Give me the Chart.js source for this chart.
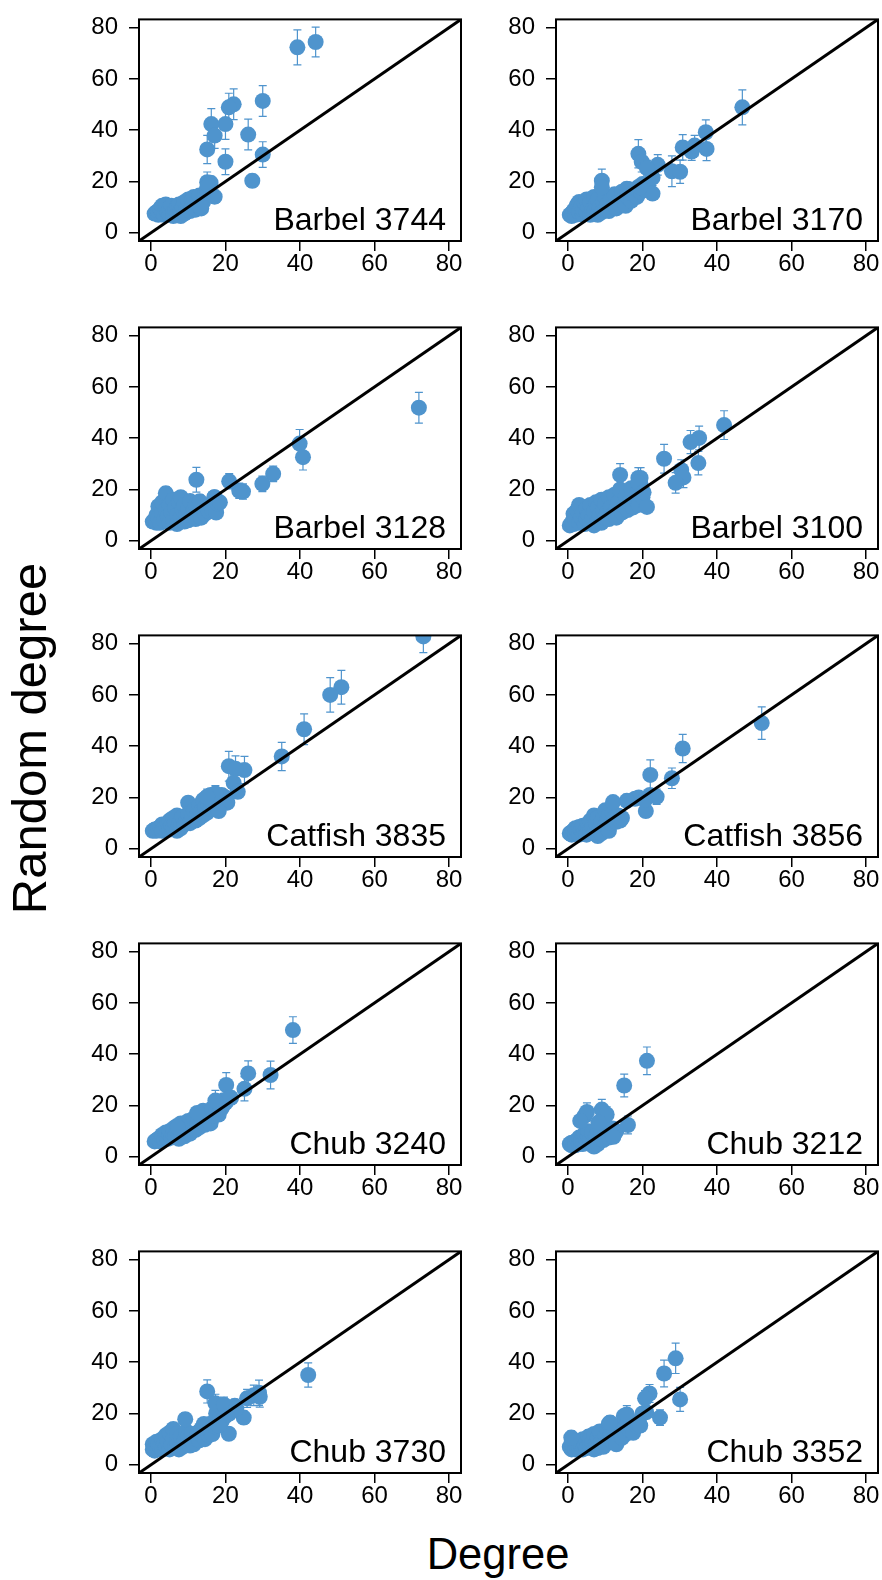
<!DOCTYPE html>
<html>
<head>
<meta charset="utf-8">
<script src="https://cdn.jsdelivr.net/npm/chart.js@4.4.1/dist/chart.umd.min.js"></script>
<style>
  html, body { margin: 0; padding: 0; background: #fff; overflow: hidden; }
  #page { position: relative; width: 882px; height: 1580px; font-family: 'Liberation Sans', Arial, sans-serif; }
  #page canvas { position: absolute; }
  .axis-title { position: absolute; width: 400px; text-align: center; white-space: nowrap; color: #000; }
  #ytitle { left: -171px; top: 714px; font-size: 49px; line-height: 49px; transform: rotate(-90deg); }
  #xtitle { left: 298px; top: 1533px; font-size: 43.5px; line-height: 43.5px; }
</style>
</head>
<body>
<div id="page">
  <div class="axis-title" id="ytitle">Random degree</div>
  <div class="axis-title" id="xtitle">Degree</div>
</div>
<script>
// [degree, random degree, error half-width]
const barbel3744 = [
  [1,7.5,1],[1.5,8,1],[2,7,1],[2,8.5,1],[2.5,9.5,1],[3,8,1],[3,10.5,1],[3.5,7,1],[4,9,1],[4,11,1],
  [4.5,8,1],[5,7,1],[5,9.5,1],[5.5,10.5,1],[6,8,1],[6,6.5,1],[6.5,9,1],[7,10,1],[7,7,1],[7.5,11,1],
  [8,8.5,1],[8,6.5,1],[8.5,10,1],[9,12,1.5],[9,7.5,1],[9.5,9.5,1],[10,11,1],[10,13,1.5],[10.5,8.5,1],[11,12.5,1.5],
  [11,10,1],[11.5,14,1.5],[12,11.5,1.5],[12,9,1],[12.5,13,1.5],[13,14.5,1.5],[13,10,1],[13.5,9.5,1],[14,12,1.5],[14.5,15,2],
  [15,17,2],[15.5,18.5,2],[16,19.5,2.5],
  [39.3,72.3,6.8],[44.2,74.4,5.8],[30,51.4,6],[22.2,50.1,6],[20.9,48.9,5.5],[20,42.4,6],[16.2,42.4,6],[17.1,37.9,5],
  [15.1,32.5,5.5],[20,27.7,5],[26.1,38.3,6],[30,30.5,5],[27.2,20.3,2.5],[15.1,19.7,4],[15.3,18.5,3],[17.1,14.1,2.5],[13.3,10.3,2]
];
const barbel3170 = [
  [0.5,7,1],[1,7.5,1],[1,6.5,1],[1.5,8.5,1],[2,7,1],[2,9.5,1],[2.5,11,1],[3,8,1],[3,12,1.5],[3.5,10,1],
  [4,7,1],[4,9,1],[4.5,11.5,1],[5,8,1],[5,13,1.5],[5.5,10,1],[6,7,1],[6,12,1.5],[6.5,9,1],[7,14,1.5],
  [7,8,1],[7.5,11,1],[8,7,1],[8,13,1.5],[8.5,10,1],[9,8,1],[9.5,12,1.5],[10,9,1],[10,14,1.5],[10.5,11,1],
  [11,8.5,1],[11.5,13,1.5],[12,10,1],[12.5,15,1.5],[13,9.5,1],[13.5,12,1.5],[14,11,1],[14.5,16,1.5],[15,13,1.5],[15.5,10.5,1],
  [16,14,1.5],[16.5,17,2],[17,12.5,1.5],[17.5,15,1.5],[18,16.5,2],[18.5,14,1.5],[19,18,2],[19.5,16,2],[20,19,2],[20.5,17,2],
  [46.8,48.9,6.8],[37,39.2,4.8],[37.2,32.7,4.6],[33.2,31.7,3.5],[30.8,33.3,5],[34,34,4],[27.9,24,6],[30.1,23.8,4.5],
  [24.1,26.5,4],[22.7,21.5,3],[22.7,15.3,2],[18.9,30.8,5.5],[19.8,27.7,4],[21.2,25.2,3],[9.1,20.3,4.5],[9.1,17.8,3],
  [15.8,17.2,2.5],[19.4,17.8,2.5]
];
const barbel3128 = [
  [0.5,7.5,1],[1,8,1],[1.5,7,1],[1.5,10,1],[2,13.5,1.5],[2,9,1],[2.5,7,1],[3,11,1],[3,15,1.5],[3.5,8,1],
  [4,18.5,2.5],[4,12,1.5],[4.5,9.5,1],[5,7,1],[5,14,1.5],[5.5,11,1],[6,16,2],[6,8,1],[6.5,13,1.5],[7,10,1],
  [7,6.5,1],[7.5,15,1.5],[8,17,2],[8,9,1],[8.5,12,1.5],[9,7.5,1],[9,14,1.5],[9.5,10.5,1],[10,13,1.5],[10,8,1],
  [10.5,15.5,2],[11,9.5,1],[11.5,12,1.5],[12,8.5,1],[12,14,1.5],[13,11,1],[13.5,9,1],[14,12.5,1.5],[14.5,10.5,1],[15,13,1.5],
  [15.5,11.5,1.5],[16,14,1.5],[16.5,12,1.5],[17,17,2],[17.5,11,1.5],[18,14.5,2],
  [71.9,51.9,6],[39.9,37.9,5.5],[40.8,32.6,5],[32.8,26.1,3],[29.9,22.2,3],[24.7,19.2,3],[23.7,19.5,3],[21,23.2,3],
  [12.2,23.8,4.8],[13.1,15.4,2.5],[17.1,17,2],[18.5,15,2]
];
const barbel3100 = [
  [0.5,6,1],[1,7,1],[1.5,10.5,1],[1.5,6.5,1],[2,8,1],[2.5,12,1.5],[3,14,1.5],[3,7,1],[3.5,9,1],[4,11,1],
  [4.5,6.5,1],[5,8.5,1],[5,12.5,1.5],[5.5,10,1],[6,7,1],[6,14,1.5],[6.5,9,1],[7,11.5,1],[7,6,1],[7.5,15,1.5],
  [8,8,1],[8,13,1.5],[8.5,10,1],[9,16,1.5],[9,7,1],[9.5,12,1.5],[10,9,1],[10,14.5,1.5],[10.5,11,1],[11,17,2],
  [11,8.5,1],[11.5,13,1.5],[12,10,1],[12.5,18,2],[13,12,1.5],[13,9,1],[13.5,15,1.5],[14,20,2],[14.5,11,1.5],[15,13.5,1.5],
  [15.5,17.5,2],[16,12,1.5],[16.5,15,1.5],[17,20.5,2],[17.5,13,1.5],[18,16.5,2],[18.5,18.5,2],[19,14,1.5],[19.5,22,2.5],[19.5,24.5,4],
  [20,17,2],
  [41.9,45.1,5.6],[35.2,40.1,4.6],[32.9,38.5,4.5],[35,30.3,4.6],[30.4,27.6,4],[31,24.7,4],[28.9,22.6,4],[25.8,32,5.6],
  [14,25.7,4.4],[18.9,24.5,4],[18.9,22.6,3],[20.3,18.9,2],[21.2,13.2,1.5]
];
const catfish3835 = [
  [0.5,7,1],[1,7.5,1],[1.5,7,1],[2,8,1],[2.5,8.5,1],[3,9.5,1],[3,7,1],[3.5,8,1],[4,9,1],[4.5,10,1],
  [5,7.5,1],[5,11,1],[5.5,9,1],[6,8,1],[6,12,1.5],[6.5,10,1],[7,13,1.5],[7,7,1],[7.5,9,1],[8,11,1],
  [8,8,1],[8.5,12.5,1.5],[9,9.5,1],[9.5,11,1],[10,18,2],[10,13.5,1.5],[10.5,10,1],[11,12,1.5],[11.5,15,1.5],[12,11,1],
  [12.5,13.5,1.5],[13,17,2],[13,12,1.5],[13.5,14.5,1.5],[14,19,2],[14,13,1.5],[14.5,16,2],[15,20,2],[15,14,1.5],[15.5,17,2],
  [16,21,2.5],[16,15.5,2],[16.5,18.5,2],[17,20,2.5],[17.5,16.5,2],[18,19,2],[18.5,17,2],[19,21,2.5],[19.5,18.5,2],[20,20,2],
  [20.5,18,2],
  [73.1,82.8,6.3],[51.1,63,6.6],[48.1,60,6.7],[41.1,46.6,6],[35.1,36,5.5],[25.1,30.7,5.3],[20.9,32.2,5.8],[22.7,31.2,5],
  [22.2,25.7,3],[23.3,22.2,2.5],[20.3,18.5,2.5],[18.2,14.7,2],[17.3,21.6,3],[15.1,20.3,3]
];
const catfish3856 = [
  [0.5,6,1],[1,6.5,1],[1,5.5,1],[1.5,7,1],[2,6,1],[2,8,1],[2.5,7,1],[3,5.5,1],[3,8.5,1],[3.5,7.5,1],
  [4,6,1],[4,9,1],[4.5,7,1],[5,8,1],[5,5.5,1],[5.5,9.5,1],[6,7,1],[6,11,1],[6.5,8.5,1],[7,6,1],
  [7,13,1.5],[7.5,10,1],[8,5,1],[8,12,1.5],[8.5,8,1],[9,10.5,1],[9,6,1],[9.5,13.5,1.5],[10,9,1],[10,15,1.5],
  [10.5,11,1],[11,7,1],[11,13,1.5],[11.5,10,1],[12,14,1.5],[12.5,12,1.5],[13,10.5,1],[13.5,13,1.5],[14,11,1.5],[14.5,12,1.5],
  [18,19.5,2],[19,20,2],[22,21,2.5],
  [52,49,6.3],[30.8,39.1,5.5],[22.1,28.8,5.9],[27.9,27.5,4],[23.8,20.3,3],[20.9,14.7,2.5],[20.7,19.1,2.5],[15.8,18.7,2.5],
  [12.1,18.2,2]
];
const chub3240 = [
  [1,6,1],[1.5,6.5,1],[2,7,1],[2.5,6,1],[3,7.5,1],[3,8.5,1],[3.5,7,1],[4,8,1],[4,9.5,1],[4.5,7,1],
  [5,8.5,1],[5,10,1],[5.5,7.5,1],[6,9,1],[6,11,1],[6.5,8,1],[7,10,1],[7,12,1.5],[7.5,7,1],[8,9.5,1],
  [8,13,1.5],[8.5,11,1],[9,8,1],[9,12.5,1.5],[9.5,10,1],[10,11.5,1.5],[10,14,1.5],[10.5,9,1],[11,12,1.5],[11.5,15,1.5],
  [12,10.5,1.5],[12.5,13,1.5],[13,11.5,1.5],[13.5,16,2],[14,13.5,1.5],[14,18,2],[14.5,12.5,1.5],[15,15,2],[15.5,17,2],[16,14,2],
  [16,13,1.5],[16.5,19,2],[17,16,2],[17.5,18,2],[18.5,20,2],[19,19,2],[19.5,22,2.5],[20,21,2.5],[21.5,23,2.5],
  [38.1,49.4,5.2],[32.1,31.9,5.4],[26.1,32.5,4.9],[25.1,26.5,4.7],[20.2,28,4.8],[20.9,22.8,3],[17.3,21.9,4],[18.2,16.5,2],
  [12.4,17.1,2],[7.2,11.5,1.5]
];
const chub3212 = [
  [0.5,5,1],[1,4.5,1],[1,5.5,1],[1.5,5,1],[2,6,1],[2,4.5,1],[2.5,6.5,1],[3,5,1],[3,7.5,1],[3.5,6,1],
  [4,8,1],[4,5,1],[4.5,9,1],[4.5,16,2],[5,6.5,1],[5.5,8,1],[5.5,10,1],[6,5,1],[6,7,1],[6.5,9.5,1],
  [7,6,1],[7,4,1],[7.5,8,1],[8,10,1],[8,5,1],[8.5,7,1],[9,9,1],[9.5,6.5,1],[10,8.5,1],[10.5,10.5,1.5],
  [11,7.5,1],[11.5,9.5,1],[12,11,1.5],[12.5,9,1],[13,10,1.5],
  [21.2,37.4,5.4],[15.1,27.8,4.4],[16.1,12.4,3.5],[9.1,18.4,4],[10.4,16.5,3],[5.1,17.5,3.5],[3.3,14,2],[8.2,13.4,2],
  [12.2,7.8,2]
];
const chub3730 = [
  [0.5,6,1],[0.5,8,1],[1,7,1],[1,5.5,1],[1.5,9,1],[2,6.5,1],[2,8,1],[2.5,7,1],[3,6,1],[3,10,1],
  [3.5,8,1],[4,7,1],[4,11.5,1.5],[4.5,9,1],[5,6,1],[5,12.5,1.5],[5.5,8,1],[6,10,1],[6,14,1.5],[6.5,7,1],
  [7,9,1],[7,12,1.5],[7.5,6,1],[8,8,1],[8,11,1],[8.5,7,1],[9,9.5,1],[9.5,13,1.5],[10,8,1],[10,11,1],
  [10.5,7.5,1],[11,12,1.5],[11,9,1],[11.5,8,1],[12,10,1],[12.5,12.5,1.5],[13,9.5,1],[13.5,14,1.5],[14,11,1.5],[14.5,10,1],
  [15,13,1.5],[15.5,11.5,1.5],[16,16,2],[16,13,1.5],[16.5,12,1.5],[17,15,2],[17.5,20,2],[18,15.5,2],[18.5,18,2],[19,17,2],
  [19.5,21,2.5],[20,19,2],[21,20,2.5],[22,22,2.5],[22.5,23,2.5],
  [42.2,35,4.7],[29,28.1,4.9],[29.2,26.5,4],[27.6,27.1,4],[25.8,25.9,3.5],[24.9,18.4,2.5],[15.1,28.6,4.5],[17.3,24,3.5],
  [19.6,23.4,3],[22.9,21.9,3],[20.9,12.1,2],[18.2,15.3,2],[14.2,15.9,2],[9.2,17.8,2.5]
];
const chub3352 = [
  [0.5,7,1],[1,6,1],[1,8,1],[1.5,7,1],[2,8.5,1],[2,6,1],[2.5,7,1],[3,9,1],[3,6,1],[3.5,7.5,1],
  [4,10,1],[4,6,1],[4.5,8,1],[5,9.5,1],[5,6.5,1],[5.5,11,1],[6,7.5,1],[6,10,1],[6.5,9,1],[7,6,1],
  [7,12,1.5],[7.5,8,1],[8,10.5,1],[8,6.5,1],[8.5,13,1.5],[9,9,1],[9.5,7,1],[10,11.5,1.5],[10,8,1],[10.5,14,1.5],
  [11,10,1],[11,16,2],[11.5,12,1.5],[12,9,1],[12.5,13.5,1.5],[13,11,1.5],[13,8,1],[13.5,15,1.5],[14,12.5,1.5],[14.5,10.5,1.5],
  [15,19,2],[15,14,1.5],[15.5,12,1.5],[16,16.5,2],[16.5,13.5,1.5],[17,15,2],[17.5,12.5,1.5],[18,16,2],[18.5,15,2],[19,17,2],
  [20,20,2],[21,20.5,2.5],
  [28.9,41.5,5.9],[25.8,35.6,5.2],[30.1,25.5,4.7],[21.9,27.8,3.5],[20.7,25.9,3],[24.7,18.4,3],[19.4,15.3,2],[15.8,19.6,3.5],
  [11.3,16.5,2.5],[0.9,10.6,2.5]
];

const panelNames = ['Barbel 3744', 'Barbel 3170', 'Barbel 3128', 'Barbel 3100', 'Catfish 3835',
                    'Catfish 3856', 'Chub 3240', 'Chub 3212', 'Chub 3730', 'Chub 3352'];
const panelData = [barbel3744, barbel3170, barbel3128, barbel3100, catfish3835,
                   catfish3856, chub3240, chub3212, chub3730, chub3352];
const tickValues = [0, 20, 40, 60, 80];
const axisMin = -3.2;
const axisMax = 83.2;

const colLeft = [139, 556];
const firstTop = 10, rowStep = 308;
const boxW = 322, boxH = 231;
const yAxisW = 80, xAxisH = 50, padTop = 16, padRight = 8;
const blue = '#4F94CD';
const fontFamily = "'Liberation Sans', Arial, Helvetica, sans-serif";

// error bars under the points
const errorBars = {
  id: 'errorBars',
  beforeDatasetsDraw(chart) {
    const ds = chart.data.datasets[1];
    const meta = chart.getDatasetMeta(1);
    const yScale = chart.scales.y;
    const area = chart.chartArea;
    const ctx = chart.ctx;
    ctx.save();
    ctx.beginPath();
    ctx.rect(area.left, area.top, area.right - area.left, area.bottom - area.top);
    ctx.clip();
    ctx.strokeStyle = blue;
    ctx.lineWidth = 1.2;
    meta.data.forEach((pt, i) => {
      const d = ds.data[i];
      const top = yScale.getPixelForValue(d.y + d.err);
      const bottom = yScale.getPixelForValue(d.y - d.err);
      ctx.beginPath();
      ctx.moveTo(pt.x, top); ctx.lineTo(pt.x, bottom);
      ctx.moveTo(pt.x - 4, top); ctx.lineTo(pt.x + 4, top);
      ctx.moveTo(pt.x - 4, bottom); ctx.lineTo(pt.x + 4, bottom);
      ctx.stroke();
    });
    ctx.restore();
  }
};

// box around plot region
const frame = {
  id: 'frame',
  afterDraw(chart) {
    const a = chart.chartArea;
    const ctx = chart.ctx;
    ctx.save();
    ctx.strokeStyle = '#000';
    ctx.lineWidth = 2;
    ctx.strokeRect(a.left, a.top, a.right - a.left, a.bottom - a.top);
    ctx.restore();
  }
};

function panelLabel(text) {
  return {
    id: 'panelLabel',
    afterDraw(chart) {
      const a = chart.chartArea;
      const ctx = chart.ctx;
      ctx.save();
      ctx.font = '32px ' + fontFamily;
      ctx.fillStyle = '#000';
      ctx.textAlign = 'right';
      ctx.textBaseline = 'alphabetic';
      ctx.fillText(text, a.right - 15, a.bottom - 11);
      ctx.restore();
    }
  };
}

function axisOptions(isX) {
  return {
    type: 'linear',
    min: axisMin,
    max: axisMax,
    afterBuildTicks: s => { s.ticks = tickValues.map(v => ({ value: v })); },
    afterFit: s => { if (isX) s.height = xAxisH; else s.width = yAxisW; },
    grid: { drawOnChartArea: false, drawTicks: true, tickLength: 10, color: '#000', lineWidth: 1.5 },
    border: { display: false },
    ticks: { color: '#000', font: { family: fontFamily, size: 24 }, padding: isX ? -1 : 11, maxRotation: 0 }
  };
}

const page = document.getElementById('page');

panelData.forEach((points, i) => {
  const col = i % 2;
  const row = Math.floor(i / 2);
  const canvas = document.createElement('canvas');
  const w = yAxisW + boxW + padRight;
  const h = padTop + boxH + xAxisH;
  canvas.width = w;
  canvas.height = h;
  canvas.style.width = w + 'px';
  canvas.style.height = h + 'px';
  canvas.style.left = (colLeft[col] - yAxisW) + 'px';
  canvas.style.top = (firstTop + row * rowStep - padTop) + 'px';
  page.appendChild(canvas);

  new Chart(canvas, {
    type: 'scatter',
    data: {
      datasets: [
        {
          type: 'line',
          data: [{ x: axisMin, y: axisMin }, { x: axisMax, y: axisMax }],
          borderColor: '#000',
          borderWidth: 3,
          pointRadius: 0,
          order: 0
        },
        {
          data: points.map(p => ({ x: p[0], y: p[1], err: p[2] })),
          backgroundColor: blue,
          borderWidth: 0,
          pointRadius: 8,
          clip: 0,
          order: 1
        }
      ]
    },
    options: {
      responsive: false,
      animation: false,
      layout: { padding: { top: padTop, right: padRight, left: 0, bottom: 0 } },
      plugins: { legend: { display: false }, tooltip: { enabled: false } },
      scales: { x: axisOptions(true), y: axisOptions(false) }
    },
    plugins: [errorBars, frame, panelLabel(panelNames[i])]
  });
});
</script>
</body>
</html>
